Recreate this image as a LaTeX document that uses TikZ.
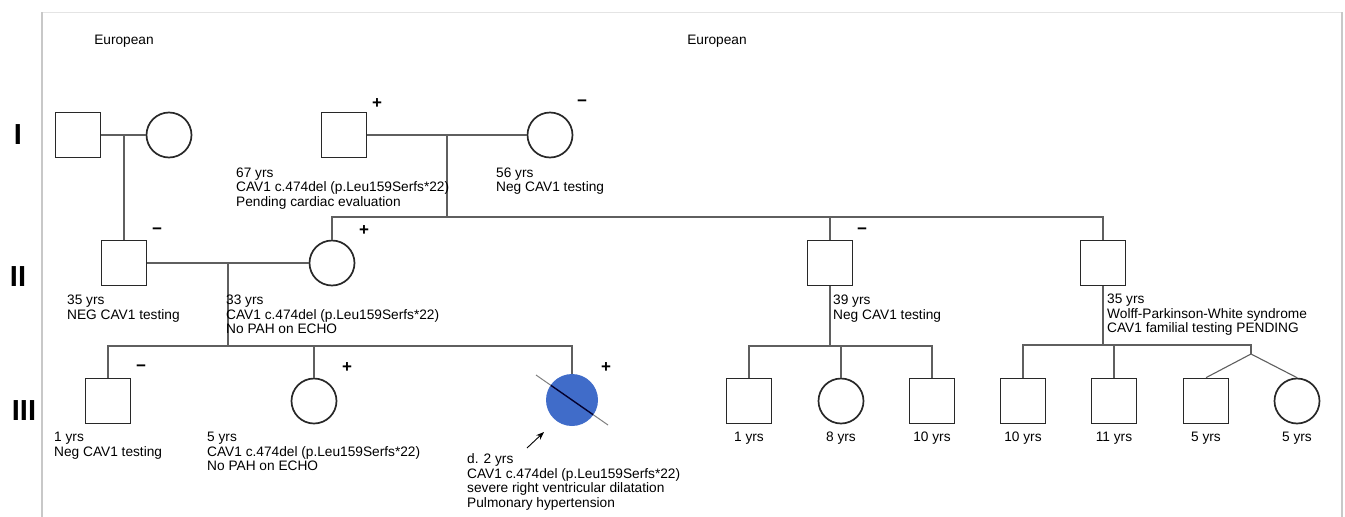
\documentclass[tikz,border=0pt]{standalone}
\usepackage{fontspec}
\setmainfont{Liberation Sans}
\usetikzlibrary{arrows.meta}
\definecolor{probblue}{RGB}{64,108,201}
\definecolor{linegray}{RGB}{95,95,95}
\definecolor{symgray}{RGB}{40,40,40}
\definecolor{framegray}{RGB}{200,200,200}
\definecolor{frametop}{RGB}{228,228,228}
\begin{document}
\begin{tikzpicture}[x=1pt,y=-1pt,
  male/.style={draw=symgray, line width=1.7pt, minimum size=45pt, inner sep=0pt, rectangle},
  female/.style={draw=symgray, line width=1.7pt, minimum size=45pt, inner sep=0pt, circle},
  conn/.style={draw=linegray, line width=1.1pt},
  info/.style={anchor=north west, align=left, inner sep=0pt, font=\fontsize{13.7}{14.6}\selectfont},
  agelbl/.style={anchor=base, inner sep=0pt, font=\fontsize{13.7}{14.6}\selectfont},
  sign/.style={inner sep=0pt, font=\fontsize{17}{17}\selectfont\bfseries},
  gen/.style={inner sep=0pt, font=\fontsize{29}{29}\selectfont\bfseries}
]
\useasboundingbox (0,0) rectangle (1345,517);
% frame
\draw[frametop, line width=1pt] (42,12) -- (1342,12);
\draw[framegray, line width=1.4pt] (42,12) -- (42,517);
\draw[framegray, line width=1.4pt] (1342,12) -- (1342,517);

% generation labels
\node[gen] (gI) at (18,135) {I};
\node[gen] (gII) at (18,277) {II};
\node[gen] (gIII) at (24,411) {III};

% ethnicity
\node[agelbl] (eu1) at (124,44) {European};
\node[agelbl] (eu2) at (717,44) {European};

% generation I
\node[male] (i1) at (78,135) {};
\node[female] (i2) at (169,135) {};
\node[male] (i3) at (344,135) {};
\node[female] (i4) at (550,135) {};

% generation II
\node[male] (ii1) at (124,263) {};
\node[female] (ii2) at (332,263) {};
\node[male] (ii3) at (830,263) {};
\node[male] (ii4) at (1103,263) {};

% generation III
\node[male] (iii1) at (108,401) {};
\node[female] (iii2) at (314,401) {};
\node[circle, fill=probblue, draw=none, minimum size=52pt, inner sep=0pt] (iii3) at (572,400) {};
\node[male] (iii4) at (749,401) {};
\node[female] (iii5) at (841,401) {};
\node[male] (iii6) at (932,401) {};
\node[male] (iii7) at (1023,401) {};
\node[male] (iii8) at (1114,401) {};
\node[male] (iii9) at (1206,401) {};
\node[female] (iii10) at (1297,401) {};

% deceased slash
\draw[gray, line width=1pt] (iii3.center) ++(-36,-25) -- ++(72,50);
\draw[black!80!blue, line width=1.4pt] (iii3.center) ++(-21,-14.6) -- ++(42,29.2);

% proband arrow
\coordinate (arrtail) at (527,448);
\coordinate (arrhead) at (544,432);
\draw[line width=0.9pt, -{Stealth[length=8pt,width=6pt]}] (arrtail) -- (arrhead);

% connectors gen I -> II
\coordinate (m1) at (124,135);
\draw[conn] (i1.east) -- (i2.west);
\draw[conn] (m1) -- (ii1.north);
\coordinate (m2) at (447,135);
\coordinate (s2) at (447,217);
\draw[conn] (i3.east) -- (i4.west);
\draw[conn] (m2) -- (s2);
\draw[conn] (ii2.north) -- (ii2.north |- s2) -- (ii4.north |- s2) -- (ii4.north);
\draw[conn] (ii3.north |- s2) -- (ii3.north);

% connectors gen II -> III
\coordinate (m3) at (228,263);
\coordinate (s3) at (228,346);
\draw[conn] (ii1.east) -- (ii2.west);
\draw[conn] (m3) -- (s3);
\draw[conn] (iii1.north) -- (iii1.north |- s3) -- (iii3.north |- s3) -- (iii3.north);
\draw[conn] (iii2.north |- s3) -- (iii2.north);

\coordinate (s4) at (830,346);
\draw[conn] (ii3.south) -- (s4);
\draw[conn] (iii4.north) -- (iii4.north |- s4) -- (iii6.north |- s4) -- (iii6.north);
\draw[conn] (iii5.north |- s4) -- (iii5.north);

\coordinate (s5) at (1103,345);
\coordinate (tw) at (1251,345);
\coordinate (tw2) at (1251,354);
\draw[conn] (ii4.south) -- (s5);
\draw[conn] (iii7.north) -- (iii7.north |- s5) -- (tw) -- (tw2);
\draw[conn] (iii8.north |- s5) -- (iii8.north);
\draw[conn] (iii9.north) -- (tw2) -- (iii10.north);

% signs
\node[sign] (p1) at (377,104) {+};
\node[sign] (n1) at (582,103) {−};
\node[sign] (n2) at (157,231) {−};
\node[sign] (p2) at (364,231) {+};
\node[sign] (n3) at (862,231) {−};
\node[sign] (n4) at (141,368) {−};
\node[sign] (p3) at (347,368) {+};
\node[sign] (p4) at (606,368) {+};

% info texts
\node[info] (t1) at (236,166.8) {\strut 67 yrs\\CAV1 c.474del (p.Leu159Serfs*22)\\Pending cardiac evaluation};
\node[info] (t2) at (496,166.8) {\strut 56 yrs\\Neg CAV1 testing};
\node[info] (t3) at (67,294) {\strut 35 yrs\\NEG CAV1 testing};
\node[info] (t4) at (226,294) {\strut 33 yrs\\CAV1 c.474del (p.Leu159Serfs*22)\\No PAH on ECHO};
\node[info] (t5) at (833,294) {\strut 39 yrs\\Neg CAV1 testing};
\node[info] (t6) at (1107,293) {\strut 35 yrs\\Wolff-Parkinson-White syndrome\\CAV1 familial testing PENDING};
\node[info] (t7) at (54,431) {\strut 1 yrs\\Neg CAV1 testing};
\node[info] (t8) at (207,431) {\strut 5 yrs\\CAV1 c.474del (p.Leu159Serfs*22)\\No PAH on ECHO};
\node[info] (t9) at (467,453) {\strut d. 2 yrs\\CAV1 c.474del (p.Leu159Serfs*22)\\severe right ventricular dilatation\\Pulmonary hypertension};

% age labels
\node[agelbl] (a4) at (749,441) {1 yrs};
\node[agelbl] (a5) at (841,441) {8 yrs};
\node[agelbl] (a6) at (932,441) {10 yrs};
\node[agelbl] (a7) at (1023,441) {10 yrs};
\node[agelbl] (a8) at (1114,441) {11 yrs};
\node[agelbl] (a9) at (1206,441) {5 yrs};
\node[agelbl] (a10) at (1297,441) {5 yrs};
\end{tikzpicture}
\end{document}
